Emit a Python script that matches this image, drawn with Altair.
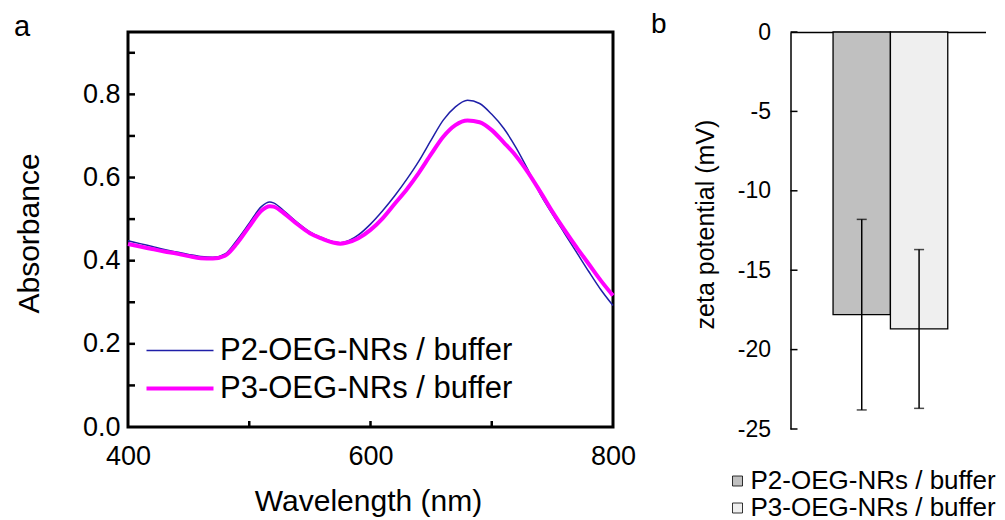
import altair as alt
import pandas as pd

FONT = "Liberation Sans"

# ---------------- panel a data ----------------
wavelength = [400, 410, 420, 430, 440, 450, 460, 470, 480, 490, 500, 510, 517, 520, 530, 540,
              550, 560, 570, 575, 580, 590, 600, 610, 620, 630, 640, 650, 660, 670, 680, 690,
              700, 710, 720, 730, 740, 750, 760, 770, 780, 790, 800]
p2_absorbance = [0.448, 0.441, 0.434, 0.427, 0.421, 0.415, 0.410, 0.408, 0.416, 0.450, 0.490,
                 0.530, 0.541, 0.539, 0.516, 0.491, 0.469, 0.455, 0.445, 0.443, 0.446, 0.462,
                 0.488, 0.520, 0.556, 0.596, 0.640, 0.690, 0.738, 0.770, 0.786, 0.778, 0.752,
                 0.718, 0.672, 0.618, 0.560, 0.512, 0.466, 0.420, 0.374, 0.330, 0.292]
p3_absorbance = [0.440, 0.434, 0.428, 0.422, 0.417, 0.411, 0.406, 0.405, 0.412, 0.442, 0.482,
                 0.520, 0.531, 0.530, 0.511, 0.487, 0.466, 0.453, 0.443, 0.441, 0.443, 0.454,
                 0.474, 0.502, 0.537, 0.572, 0.612, 0.656, 0.698, 0.726, 0.737, 0.733, 0.714,
                 0.684, 0.652, 0.612, 0.566, 0.518, 0.474, 0.432, 0.392, 0.352, 0.316]
series_names = ["P2-OEG-NRs / buffer", "P3-OEG-NRs / buffer"]
line_colors = ["#1f1fa8", "#ff00ff"]
line_widths = [1.5, 4.0]
abs_labels = [0.0, 0.2, 0.4, 0.6, 0.8]
abs_ticks = [0.1, 0.2, 0.3, 0.4, 0.5, 0.6, 0.7, 0.8, 0.9]
wl_labels = [400, 600, 800]
wl_ticks = [500, 600, 700]

# ---------------- panel b data ----------------
zeta_mean = [-17.8, -18.7]
zeta_sd = [6.0, 5.0]
bar_fills = ["#c0c0c0", "#efefef"]
zeta_labels = [-25, -20, -15, -10, -5, 0]
panel_letters = ["a", "b"]

# ---------------- tables ----------------
df_lines = pd.DataFrame({
    "wavelength": wavelength * 2,
    "absorbance": p2_absorbance + p3_absorbance,
    "series": [series_names[0]] * len(wavelength) + [series_names[1]] * len(wavelength),
})
df_ytick_a = pd.DataFrame({"absorbance": abs_ticks})
df_xtick_a = pd.DataFrame({"wavelength": wl_ticks})
df_bars = pd.DataFrame({
    "series": series_names,
    "zeta": zeta_mean,
    "lo": [m - s for m, s in zip(zeta_mean, zeta_sd)],
    "hi": [m + s for m, s in zip(zeta_mean, zeta_sd)],
})
df_ytick_b = pd.DataFrame({"zeta": zeta_labels})
df_letter_a = pd.DataFrame({"t": [panel_letters[0]]})
df_letter_b = pd.DataFrame({"t": [panel_letters[1]]})

# ---------------- panel a ----------------
W_A, H_A = 485, 395
x_scale_a = alt.Scale(domain=[400, 800], nice=False, zero=False)
y_scale_a = alt.Scale(domain=[0, 0.95], nice=False, zero=False)
x_axis_a = alt.Axis(values=wl_labels, format="d", labelFontSize=27, labelFont=FONT,
                    labelColor="black", labelPadding=16, labelFlush=False, ticks=False,
                    domain=False, grid=False, title="Wavelength (nm)", titleFont=FONT,
                    titleFontSize=30, titleFontWeight="normal", titleColor="black",
                    titlePadding=17, titleX=240)
y_axis_a = alt.Axis(values=abs_labels, format=".1f", labelFontSize=27, labelFont=FONT,
                    labelColor="black", labelPadding=8, labelFlush=False, ticks=False,
                    domain=False, grid=False, title="Absorbance", titleFont=FONT,
                    titleFontSize=30, titleFontWeight="normal", titleColor="black",
                    titlePadding=38, titleY=201)

legend_a = alt.Legend(orient="none", legendX=13, legendY=303, direction="vertical",
                      title=None, symbolType="M-1,0H5.7", symbolSize=400, labelFont=FONT,
                      labelFontSize=31, labelColor="black", labelOffset=48, rowPadding=6,
                      labelLimit=0, padding=0)

lines = alt.Chart(df_lines).mark_line(interpolate="monotone").encode(
    x=alt.X("wavelength:Q", scale=x_scale_a, axis=x_axis_a),
    y=alt.Y("absorbance:Q", scale=y_scale_a, axis=y_axis_a),
    color=alt.Color("series:N", scale=alt.Scale(domain=series_names, range=line_colors),
                    legend=legend_a),
    strokeWidth=alt.StrokeWidth("series:N",
                                scale=alt.Scale(domain=series_names, range=line_widths),
                                legend=legend_a),
)

ytick_a = alt.Chart(df_ytick_a).mark_rule(color="black", strokeWidth=2.5).encode(
    y=alt.Y("absorbance:Q", scale=y_scale_a, axis=y_axis_a),
    x=alt.value(0), x2=alt.value(7),
)
xtick_a = alt.Chart(df_xtick_a).mark_rule(color="black", strokeWidth=2.5).encode(
    x=alt.X("wavelength:Q", scale=x_scale_a, axis=x_axis_a),
    y=alt.value(H_A), y2=alt.value(H_A - 6),
)
letter_a = alt.Chart(df_letter_a).mark_text(
    align="left", baseline="alphabetic", fontSize=29, font=FONT, color="black"
).encode(text="t:N", x=alt.value(-114), y=alt.value(4))

panel_a = alt.layer(lines, ytick_a, xtick_a, letter_a).properties(
    width=W_A, height=H_A,
    view=alt.ViewBackground(stroke="black", strokeWidth=3),
)

# ---------------- panel b ----------------
W_B, H_B = 195, 397
x_scale_b = alt.Scale(domain=series_names, paddingInner=0, paddingOuter=0.7, align=0.53)
y_scale_b = alt.Scale(domain=[-25, 0], nice=False, zero=False)
x_axis_b = alt.Axis(orient="top", labels=False, ticks=False, title=None, domain=True,
                    domainColor="black", domainWidth=1.5, grid=False)
y_axis_b = alt.Axis(values=zeta_labels, labelExpr="datum.value + ''", labelFontSize=23,
                    labelFont=FONT, labelColor="black", labelPadding=20, labelFlush=False,
                    ticks=False, domain=True, domainColor="black", domainWidth=1.5,
                    grid=False, title="zeta potential (mV)", titleFont=FONT,
                    titleFontSize=25, titleFontWeight="normal", titleColor="black",
                    titlePadding=19, titleY=192)
legend_b = alt.Legend(orient="none", legendX=-66, legendY=436, direction="vertical",
                      title=None, symbolType="square", symbolSize=100,
                      symbolStrokeColor="black", symbolStrokeWidth=0.8, labelFont=FONT,
                      labelFontSize=26, labelColor="black", labelOffset=0, rowPadding=1,
                      labelLimit=0, padding=0)

bars = alt.Chart(df_bars).mark_bar(stroke="black", strokeWidth=1.3).encode(
    x=alt.X("series:N", scale=x_scale_b, axis=x_axis_b),
    y=alt.Y("zeta:Q", scale=y_scale_b, axis=y_axis_b),
    fill=alt.Fill("series:N", scale=alt.Scale(domain=series_names, range=bar_fills),
                  legend=legend_b),
)
err = alt.Chart(df_bars).mark_rule(color="black", strokeWidth=1.5).encode(
    x=alt.X("series:N", scale=x_scale_b, axis=x_axis_b),
    y=alt.Y("lo:Q", scale=y_scale_b, axis=y_axis_b),
    y2="hi:Q",
)
cap_lo = alt.Chart(df_bars).mark_tick(color="black", thickness=1.5, size=10).encode(
    x=alt.X("series:N", scale=x_scale_b, axis=x_axis_b),
    y=alt.Y("lo:Q", scale=y_scale_b, axis=y_axis_b),
)
cap_hi = alt.Chart(df_bars).mark_tick(color="black", thickness=1.5, size=10).encode(
    x=alt.X("series:N", scale=x_scale_b, axis=x_axis_b),
    y=alt.Y("hi:Q", scale=y_scale_b, axis=y_axis_b),
)
ytick_b = alt.Chart(df_ytick_b).mark_rule(color="black", strokeWidth=1.5).encode(
    y=alt.Y("zeta:Q", scale=y_scale_b, axis=y_axis_b),
    x=alt.value(0), x2=alt.value(7),
)
letter_b = alt.Chart(df_letter_b).mark_text(
    align="left", baseline="alphabetic", fontSize=28, font=FONT, color="black"
).encode(text="t:N", x=alt.value(-139.5), y=alt.value(1))

panel_b = alt.layer(bars, err, cap_lo, cap_hi, ytick_b, letter_b).properties(
    width=W_B, height=H_B,
)

chart = alt.hconcat(panel_a, panel_b, spacing=177.5, bounds="flush").resolve_legend(
    color="independent", strokeWidth="independent", fill="independent"
).properties(
    padding={"left": 4, "top": 2, "right": 0, "bottom": 0}
).configure_view(stroke="transparent")

chart.save("out.html", embed_options={"renderer": "svg", "actions": False})
